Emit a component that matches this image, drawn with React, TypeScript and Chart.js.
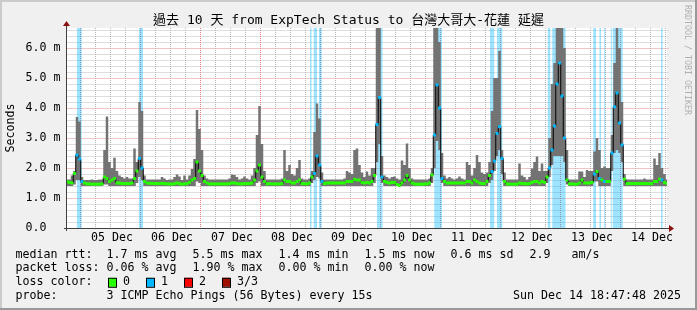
import React, { useEffect, useRef } from 'react';
import { Chart, registerables } from 'chart.js';

Chart.register(...registerables);

// ---------- text ----------
const TITLE = '過去 10 天 from ExpTech Status to 台灣大哥大-花蓮 延遲';
const Y_AXIS_TITLE = 'Seconds';
const WATERMARK = 'RRDTOOL / TOBI OETIKER';

// ---------- axes ----------
const SPAN_HOURS = 240; // 10 days ending Sun Dec 14 18:47:48
const FIRST_MIDNIGHT_HOUR = 5.2; // Dec 5 00:00 relative to start (Dec 4 18:47:48)
const DAY_LABELS = ['05 Dec', '06 Dec', '07 Dec', '08 Dec', '09 Dec', '10 Dec', '11 Dec', '12 Dec', '13 Dec', '14 Dec'];
const Y_MAX = 20 / 3;
const Y_TICK_LABELS = ['0.0  ', '1.0 m', '2.0 m', '3.0 m', '4.0 m', '5.0 m', '6.0 m'];

// ---------- data (ms, one value per hour from start) ----------
const smokeHigh = [
  1.62, 1.62, 1.75, 1.90, 3.70, 3.55, 1.70, 1.60, 1.60, 1.60,
  1.62, 1.60, 1.60, 1.62, 1.62, 2.60, 3.72, 2.20, 2.00, 2.34,
  1.90, 1.75, 1.70, 1.65, 1.70, 1.65, 1.65, 2.65, 2.20, 4.20,
  3.90, 1.75, 1.62, 1.62, 1.62, 1.62, 1.62, 1.62, 1.70, 1.65,
  1.60, 1.62, 1.62, 1.70, 1.78, 1.72, 1.60, 1.75, 1.62, 1.75,
  1.97, 2.30, 3.93, 3.30, 2.60, 1.75, 1.65, 1.62, 1.62, 1.62,
  1.62, 1.62, 1.62, 1.62, 1.62, 1.65, 1.78, 1.77, 1.70, 1.62,
  1.65, 1.72, 1.65, 1.62, 1.75, 2.00, 3.10, 4.07, 2.80, 1.90,
  1.62, 1.62, 1.62, 1.62, 1.62, 1.62, 1.65, 2.60, 1.90, 2.10,
  1.80, 1.75, 2.00, 2.27, 1.65, 1.62, 1.62, 1.65, 1.90, 3.20,
  4.15, 3.65, 1.85, 1.62, 1.62, 1.62, 1.62, 1.62, 1.62, 1.62,
  1.62, 1.65, 1.90, 1.85, 1.80, 2.60, 2.65, 2.10, 1.85, 1.70,
  1.88, 1.75, 2.00, 2.00, 7.00, 7.00, 2.40, 1.75, 1.70, 1.65,
  1.70, 1.72, 1.65, 1.62, 2.25, 2.10, 2.82, 2.00, 1.65, 1.62,
  1.62, 1.62, 1.62, 1.62, 1.62, 1.65, 2.00, 7.00, 7.00, 6.20,
  2.50, 1.75, 1.65, 1.70, 1.65, 1.62, 1.65, 1.72, 1.65, 1.62,
  2.20, 2.10, 1.75, 2.00, 2.43, 2.20, 1.85, 1.80, 1.85, 2.20,
  3.90, 5.00, 5.00, 5.90, 2.60, 1.85, 1.62, 1.62, 1.62, 1.62,
  1.62, 2.15, 1.75, 1.70, 1.62, 1.70, 1.98, 2.20, 2.38, 1.90,
  2.15, 1.90, 1.90, 3.00, 4.80, 5.50, 7.00, 7.00, 7.00, 6.00,
  2.60, 1.62, 1.62, 1.62, 1.62, 1.88, 1.88, 1.70, 1.93, 1.90,
  1.90, 2.55, 3.00, 2.60, 2.00, 2.05, 2.00, 2.00, 3.10, 5.50,
  7.00, 6.00, 4.20, 1.80, 1.62, 1.62, 1.62, 1.62, 1.62, 1.62,
  1.62, 1.65, 1.62, 1.62, 1.62, 2.32, 2.10, 2.50, 2.00, 1.80,
  1.62,
];

const smokeLow = [
  1.40, 1.40, 1.40, 1.45, 1.60, 1.60, 1.40, 1.40, 1.40, 1.40,
  1.40, 1.40, 1.40, 1.40, 1.40, 1.45, 1.45, 1.40, 1.40, 1.40,
  1.40, 1.40, 1.40, 1.40, 1.40, 1.40, 1.40, 1.40, 1.50, 1.70,
  1.60, 1.40, 1.40, 1.40, 1.40, 1.40, 1.40, 1.40, 1.40, 1.40,
  1.40, 1.40, 1.40, 1.40, 1.40, 1.40, 1.40, 1.40, 1.40, 1.40,
  1.40, 1.40, 1.55, 1.50, 1.40, 1.40, 1.40, 1.40, 1.40, 1.40,
  1.40, 1.40, 1.40, 1.40, 1.40, 1.40, 1.40, 1.40, 1.40, 1.40,
  1.40, 1.40, 1.40, 1.40, 1.40, 1.40, 1.50, 1.55, 1.40, 1.40,
  1.40, 1.40, 1.40, 1.40, 1.40, 1.40, 1.40, 1.40, 1.40, 1.40,
  1.40, 1.40, 1.40, 1.40, 1.40, 1.40, 1.40, 1.40, 1.50, 1.60,
  1.70, 1.65, 1.40, 1.40, 1.40, 1.40, 1.40, 1.40, 1.40, 1.40,
  1.40, 1.40, 1.40, 1.40, 1.40, 1.40, 1.40, 1.40, 1.40, 1.40,
  1.40, 1.40, 1.40, 1.50, 2.20, 2.80, 1.50, 1.40, 1.40, 1.40,
  1.40, 1.40, 1.40, 1.38, 1.40, 1.40, 1.40, 1.40, 1.40, 1.40,
  1.40, 1.40, 1.40, 1.40, 1.40, 1.40, 1.50, 2.00, 2.90, 2.60,
  1.50, 1.40, 1.40, 1.40, 1.40, 1.40, 1.40, 1.40, 1.40, 1.40,
  1.40, 1.40, 1.40, 1.40, 1.40, 1.40, 1.40, 1.40, 1.40, 1.50,
  1.60, 1.90, 2.40, 2.60, 1.80, 1.40, 1.40, 1.40, 1.40, 1.40,
  1.40, 1.40, 1.40, 1.40, 1.40, 1.40, 1.40, 1.40, 1.40, 1.40,
  1.40, 1.40, 1.50, 1.70, 2.10, 2.40, 2.40, 2.40, 2.40, 2.20,
  1.45, 1.40, 1.40, 1.40, 1.40, 1.40, 1.40, 1.40, 1.40, 1.40,
  1.40, 1.55, 1.55, 1.40, 1.40, 1.40, 1.40, 1.40, 1.90, 2.50,
  2.60, 2.50, 2.20, 1.40, 1.40, 1.40, 1.40, 1.40, 1.40, 1.40,
  1.40, 1.40, 1.40, 1.40, 1.40, 1.40, 1.40, 1.40, 1.40, 1.40,
  1.40,
];

const medianRtt = [
  1.54, 1.52, 1.50, 1.82, 2.43, 2.30, 1.55, 1.50, 1.47, 1.47,
  1.46, 1.46, 1.46, 1.46, 1.47, 1.70, 1.65, 1.55, 1.60, 1.65,
  1.50, 1.50, 1.48, 1.48, 1.48, 1.48, 1.50, 1.65, 1.90, 2.32,
  2.00, 1.55, 1.50, 1.49, 1.49, 1.48, 1.48, 1.48, 1.49, 1.48,
  1.47, 1.47, 1.46, 1.48, 1.50, 1.48, 1.46, 1.47, 1.48, 1.52,
  1.60, 1.65, 2.20, 1.90, 1.75, 1.55, 1.50, 1.47, 1.47, 1.47,
  1.47, 1.47, 1.47, 1.47, 1.47, 1.48, 1.50, 1.50, 1.48, 1.47,
  1.47, 1.48, 1.48, 1.48, 1.50, 1.60, 1.90, 2.10, 1.70, 1.55,
  1.47, 1.48, 1.47, 1.47, 1.47, 1.47, 1.48, 1.60, 1.55, 1.55,
  1.50, 1.50, 1.55, 1.60, 1.48, 1.48, 1.47, 1.50, 1.70, 1.82,
  2.40, 2.10, 1.55, 1.48, 1.50, 1.50, 1.50, 1.50, 1.50, 1.50,
  1.50, 1.50, 1.55, 1.55, 1.55, 1.62, 1.60, 1.60, 1.52, 1.50,
  1.52, 1.50, 1.55, 1.75, 3.45, 4.35, 1.70, 1.55, 1.52, 1.50,
  1.52, 1.52, 1.45, 1.42, 1.50, 1.60, 1.75, 1.60, 1.50, 1.47,
  1.46, 1.46, 1.46, 1.47, 1.47, 1.50, 1.77, 3.10, 4.77, 4.00,
  1.65, 1.55, 1.50, 1.50, 1.50, 1.50, 1.50, 1.50, 1.50, 1.50,
  1.55, 1.55, 1.50, 1.60, 1.55, 1.50, 1.48, 1.48, 1.55, 1.75,
  1.88, 2.23, 3.15, 3.38, 2.32, 1.55, 1.47, 1.46, 1.46, 1.46,
  1.46, 1.50, 1.48, 1.48, 1.47, 1.48, 1.52, 1.55, 1.55, 1.50,
  1.55, 1.52, 1.70, 2.00, 2.60, 3.40, 4.80, 5.50, 4.40, 3.00,
  1.60, 1.47, 1.47, 1.46, 1.46, 1.50, 1.60, 1.50, 1.50, 1.50,
  1.52, 1.80, 1.88, 1.65, 1.60, 1.55, 1.55, 1.55, 2.50, 4.04,
  4.50, 3.50, 2.77, 1.63, 1.48, 1.48, 1.48, 1.48, 1.48, 1.48,
  1.48, 1.48, 1.48, 1.48, 1.48, 1.55, 1.55, 1.63, 1.60, 1.52,
  1.48,
];

// periods with packet loss (hours from start)
const lossFrom = [3.9, 28.8, 97.2, 98.7, 100.8, 124.0, 146.9, 169.2, 172.0, 192.3, 194.1, 210.5, 213.0, 214.9, 217.5, 218.3, 237.6];
const lossTo = [5.9, 30.4, 97.8, 100.0, 101.9, 126.2, 150.0, 170.9, 174.1, 193.3, 199.4, 211.6, 213.6, 215.3, 217.9, 222.3, 238.3];

// ---------- legend ----------
const LEGEND_RTT = ['median rtt:  1.7 ms avg', '5.5 ms max', '1.4 ms min', '1.5 ms now', '0.6 ms sd', '2.9   am/s'];
const LEGEND_LOSS = ['packet loss: 0.06 % avg', '1.90 % max', '0.00 % min', '0.00 % now'];
const LOSS_COLOR_LABEL = 'loss color:';
const LOSS_LEVELS = ['0', '1', '2', '3/3'];
const LOSS_COLORS = ['#26ff00', '#00b8ff', '#ff0000', '#a01000'];
const PROBE_TEXT = 'probe:       3 ICMP Echo Pings (56 Bytes) every 15s';
const TIMESTAMP = 'Sun Dec 14 18:47:48 2025';

const MONO = "'DejaVu Sans Mono', monospace";
const TEXT_SIZE = 11.63;
const GRID_MINOR = '#b4b4b4';
const GRID_MAJOR = '#e48080';
const HGRID_MINOR = '#dedede';
const HGRID_MAJOR = '#f3c4c4';

function inLoss(h: number): boolean {
  for (let k = 0; k < lossFrom.length; k++) {
    if (h >= lossFrom[k] - 0.15 && h <= lossTo[k] + 0.15) return true;
  }
  return false;
}

const rrdPlugin = {
  id: 'rrdDecor',
  beforeDraw(chart: any) {
    const ctx = chart.ctx as CanvasRenderingContext2D;
    const { width, height } = chart;
    const a = chart.chartArea;
    ctx.save();
    ctx.fillStyle = '#f0f0f0';
    ctx.fillRect(0, 0, width, height);
    ctx.fillStyle = '#ffffff';
    ctx.fillRect(a.left, a.top, a.right - a.left, a.bottom - a.top);
    ctx.fillStyle = '#cbcbcb';
    ctx.fillRect(0, 0, width, 2);
    ctx.fillRect(0, 0, 2, height);
    ctx.fillStyle = '#999999';
    ctx.fillRect(0, height - 2, width, 2);
    ctx.fillRect(width - 2, 0, 2, height);
    ctx.restore();
  },
  beforeDatasetsDraw(chart: any) {
    const ctx = chart.ctx as CanvasRenderingContext2D;
    const a = chart.chartArea;
    const xs = chart.scales.x;
    const ys = chart.scales.y;
    const top = Math.round(a.top);
    const bottom = Math.round(a.bottom);
    const left = Math.round(a.left);
    const right = Math.round(a.right);
    ctx.save();
    for (let k = 1; k * 0.2 < Y_MAX; k++) {
      const y = Math.round(ys.getPixelForValue(k * 0.2));
      ctx.fillStyle = k % 5 === 0 ? HGRID_MAJOR : HGRID_MINOR;
      ctx.fillRect(left, y, right - left + 2, 1);
    }
    for (let k = 0; ; k++) {
      const h = FIRST_MIDNIGHT_HOUR + 6 * k;
      if (h >= SPAN_HOURS) break;
      const x = Math.round(xs.getPixelForValue(h));
      ctx.fillStyle = k % 4 === 0 ? GRID_MAJOR : GRID_MINOR;
      for (let p = top; p < bottom; p += 2) ctx.fillRect(x, p, 1, 1);
    }
    ctx.restore();
  },
  afterDatasetsDraw(chart: any) {
    const ctx = chart.ctx as CanvasRenderingContext2D;
    const a = chart.chartArea;
    ctx.save();
    ctx.strokeStyle = '#404040';
    ctx.lineWidth = 1;
    ctx.beginPath();
    ctx.moveTo(a.left - 3, a.bottom + 0.5);
    ctx.lineTo(a.right + 2, a.bottom + 0.5);
    ctx.moveTo(a.left - 0.5, a.bottom + 3);
    ctx.lineTo(a.left - 0.5, a.top - 2);
    ctx.stroke();
    ctx.fillStyle = '#8b1010';
    ctx.beginPath();
    ctx.moveTo(a.right + 2, a.bottom - 3);
    ctx.lineTo(a.right + 7, a.bottom + 0.5);
    ctx.lineTo(a.right + 2, a.bottom + 4);
    ctx.closePath();
    ctx.fill();
    ctx.beginPath();
    ctx.moveTo(a.left - 4, a.top - 2);
    ctx.lineTo(a.left - 0.5, a.top - 7);
    ctx.lineTo(a.left + 3, a.top - 2);
    ctx.closePath();
    ctx.fill();
    ctx.restore();
  },
  afterDraw(chart: any) {
    const ctx = chart.ctx as CanvasRenderingContext2D;
    const a = chart.chartArea;
    ctx.save();
    ctx.fillStyle = '#000';
    ctx.textBaseline = 'middle';
    ctx.font = `13px 'DejaVu Sans Mono', 'Noto Sans CJK TC', monospace`;
    ctx.textAlign = 'center';
    ctx.fillText(TITLE, chart.width / 2, 21);
    ctx.font = `${TEXT_SIZE}px ${MONO}`;
    ctx.save();
    ctx.translate(11, (a.top + a.bottom) / 2);
    ctx.rotate(-Math.PI / 2);
    ctx.fillText(Y_AXIS_TITLE, 0, 0);
    ctx.restore();
    ctx.save();
    ctx.fillStyle = '#b0b0b0';
    ctx.font = `8.3px ${MONO}`;
    ctx.textAlign = 'left';
    ctx.translate(687, 5);
    ctx.rotate(Math.PI / 2);
    ctx.fillText(WATERMARK, 0, 0);
    ctx.restore();
    ctx.font = `${TEXT_SIZE}px ${MONO}`;
    ctx.textAlign = 'left';
    const gap = 16;
    const x0 = 15.5;
    const drawItems = (items: string[], y: number) => {
      let x = x0;
      items.forEach((t) => {
        ctx.fillText(t, x, y);
        x += ctx.measureText(t).width + gap;
      });
    };
    drawItems(LEGEND_RTT, 254.7);
    drawItems(LEGEND_LOSS, 268.3);
    const yc = 282.3;
    ctx.fillText(LOSS_COLOR_LABEL, x0, yc);
    let bx = 108;
    LOSS_LEVELS.forEach((lvl, i) => {
      ctx.fillStyle = LOSS_COLORS[i];
      ctx.fillRect(bx, yc - 4.5, 8, 9);
      ctx.strokeStyle = '#000';
      ctx.lineWidth = 1;
      ctx.strokeRect(bx + 0.5, yc - 4.5 + 0.5, 8, 9);
      ctx.fillStyle = '#000';
      ctx.fillText(lvl, bx + 15, yc);
      bx += 15 + ctx.measureText(lvl).width + gap;
    });
    ctx.fillText(PROBE_TEXT, x0, 296);
    ctx.textAlign = 'right';
    ctx.fillText(TIMESTAMP, 681, 296);
    ctx.restore();
  },
};

export default function App() {
  const ref = useRef<HTMLCanvasElement>(null);

  useEffect(() => {
    if (!ref.current) return;
    const hours = medianRtt.map((_, i) => i);
    const pts = (arr: number[]) => arr.map((v, i) => ({ x: hours[i], y: v }));

    const lossPts: { x: number; y: number }[] = [];
    lossFrom.forEach((f, k) => {
      lossPts.push({ x: f, y: 0 }, { x: f, y: Y_MAX }, { x: lossTo[k], y: Y_MAX }, { x: lossTo[k], y: 0 });
    });

    const xTicks: number[] = [];
    for (let k = 0; FIRST_MIDNIGHT_HOUR + 6 * k < SPAN_HOURS; k++) xTicks.push(FIRST_MIDNIGHT_HOUR + 6 * k);
    const yTicks: number[] = [];
    for (let k = 0; k * 0.2 < Y_MAX; k++) yTicks.push(k * 0.2);

    const font = { family: MONO, size: TEXT_SIZE };

    const chart = new Chart(ref.current, {
      type: 'line',
      data: {
        datasets: [
          {
            label: 'loss',
            data: lossPts,
            order: 5,
            fill: 'origin',
            backgroundColor: 'rgba(0,184,255,0.38)',
            borderColor: 'rgba(0,0,0,0)',
            borderWidth: 0,
            pointRadius: 0,
            tension: 0,
          },
          {
            label: 'smoke low',
            data: pts(smokeLow),
            order: 4,
            fill: false,
            stepped: 'middle',
            borderColor: 'rgba(0,0,0,0)',
            borderWidth: 0,
            pointRadius: 0,
          },
          {
            label: 'smoke high',
            data: pts(smokeHigh),
            order: 3,
            fill: 1,
            stepped: 'middle',
            backgroundColor: '#737373',
            borderColor: 'rgba(0,0,0,0)',
            borderWidth: 0,
            pointRadius: 0,
          },
          {
            label: 'median link',
            data: pts(medianRtt),
            order: 2,
            fill: false,
            stepped: 'middle',
            borderColor: '#000000',
            borderWidth: 1,
            pointRadius: 0,
          },
          {
            label: 'median rtt',
            data: pts(medianRtt),
            order: 1,
            showLine: false,
            pointStyle: 'line',
            pointRadius: 1.45,
            pointBorderWidth: 3,
            pointBorderColor: (c: any) => (inLoss(c.dataIndex) ? LOSS_COLORS[1] : LOSS_COLORS[0]),
            pointBackgroundColor: (c: any) => (inLoss(c.dataIndex) ? LOSS_COLORS[1] : LOSS_COLORS[0]),
          },
        ],
      },
      options: {
        responsive: false,
        animation: false,
        events: [],
        devicePixelRatio: 1,
        layout: { padding: { left: 0, right: 30, top: 28, bottom: 0 } },
        plugins: {
          legend: { display: false },
          tooltip: { enabled: false },
          title: { display: false },
        },
        scales: {
          x: {
            type: 'linear',
            min: 0,
            max: SPAN_HOURS,
            afterFit: (s: any) => {
              s.height = 82;
            },
            afterBuildTicks: (s: any) => {
              s.ticks = xTicks.map((v) => ({ value: v }));
            },
            grid: { display: false, drawTicks: false, tickLength: 0 },
            border: { display: false },
            ticks: {
              autoSkip: false,
              maxRotation: 0,
              minRotation: 0,
              padding: 3,
              labelOffset: 2,
              color: '#000',
              font,
              callback: (v: any) => {
                const k = Math.round((Number(v) - FIRST_MIDNIGHT_HOUR) / 6);
                return k % 4 === 2 ? DAY_LABELS[(k - 2) / 4] ?? '' : '';
              },
            },
          },
          y: {
            type: 'linear',
            min: 0,
            max: Y_MAX,
            afterFit: (s: any) => {
              s.width = 67;
            },
            afterBuildTicks: (s: any) => {
              s.ticks = yTicks.map((v) => ({ value: v }));
            },
            grid: { display: false, drawTicks: false, tickLength: 0 },
            border: { display: false },
            ticks: {
              autoSkip: false,
              padding: 6.5,
              color: '#000',
              font,
              callback: (v: any) => {
                const n = Number(v);
                const r = Math.round(n);
                return Math.abs(n - r) < 1e-6 ? Y_TICK_LABELS[r] ?? '' : '';
              },
            },
          },
        },
      },
      plugins: [rrdPlugin],
    } as any);

    return () => chart.destroy();
  }, []);

  return (
    <div style={{ position: 'fixed', left: 0, top: 0, width: 697, height: 310 }}>
      <canvas ref={ref} width={697} height={310} style={{ display: 'block', width: 697, height: 310 }} />
    </div>
  );
}
